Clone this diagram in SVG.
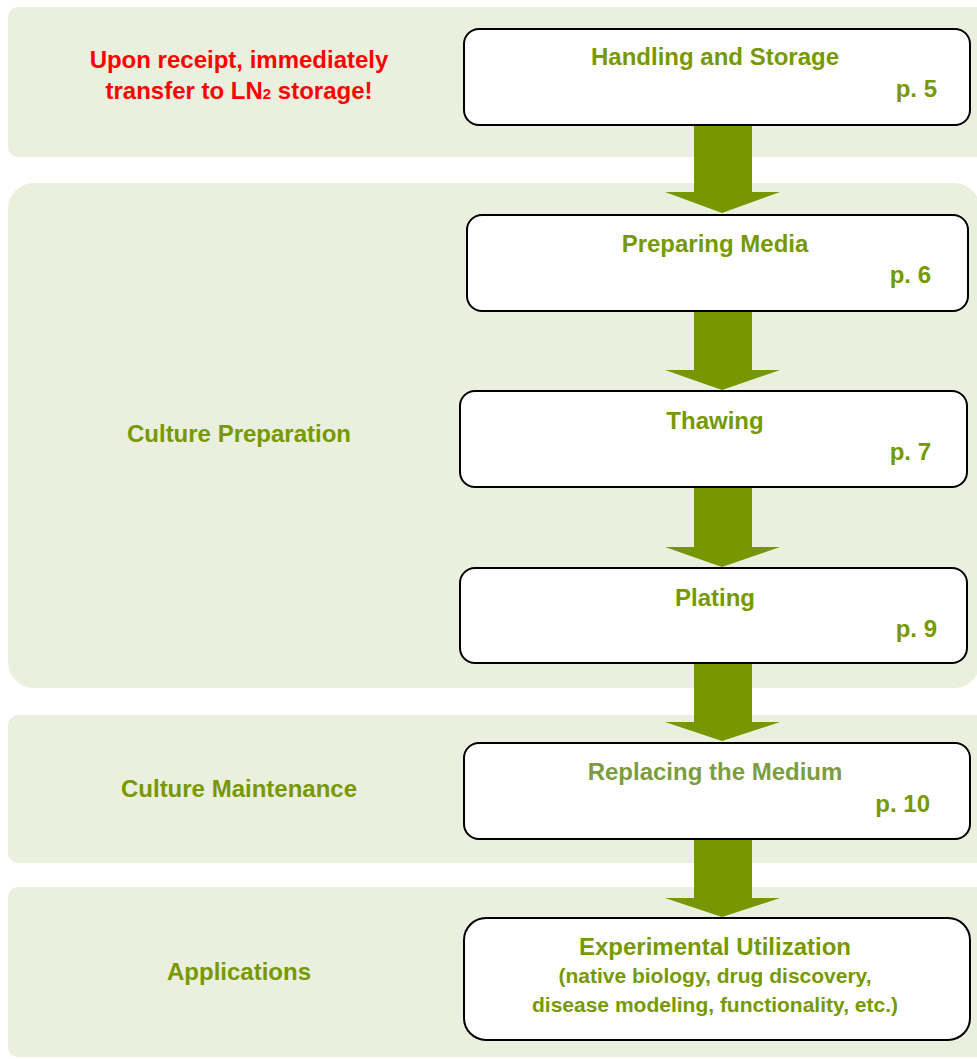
<svg xmlns="http://www.w3.org/2000/svg" width="977" height="1059" viewBox="0 0 977 1059">
<style>
.band{fill:#EBEFDE}
.box{fill:#FFFFFF;stroke:#000000;stroke-width:2}
.t{font-family:"Liberation Sans",Arial,sans-serif;font-weight:bold;font-size:24px;fill:#779900}
.c{text-anchor:middle}
.r{text-anchor:end}
.red{fill:#FF0000}
.light{fill:#7D9C40}
.s{font-size:21px}
.arrow{fill:#779700}
</style>
<g id="bands">
<rect class="band" x="8" y="7" width="990" height="150" rx="10"/>
<rect class="band" x="8" y="183" width="972" height="505" rx="26"/>
<rect class="band" x="8" y="715" width="990" height="148" rx="10"/>
<rect class="band" x="8" y="887" width="990" height="170" rx="10"/>
</g>
<g id="labels">
<text class="t c red" x="239" y="68">Upon receipt, immediately</text>
<text class="t c red" x="239" y="99">transfer to LN<tspan font-size="15">2</tspan> storage!</text>
<text class="t c" x="239" y="442">Culture Preparation</text>
<text class="t c" x="239" y="797">Culture Maintenance</text>
<text class="t c" x="239" y="980">Applications</text>
</g>
<g id="connectors">
<polygon class="arrow" points="694,126 752,126 752,192 780,192 722,213 665,192 694,192"/>
<polygon class="arrow" points="694,312 752,312 752,370 780,370 722,390 665,370 694,370"/>
<polygon class="arrow" points="694,488 752,488 752,547 780,547 722,567 665,547 694,547"/>
<polygon class="arrow" points="694,664 752,664 752,722 780,722 722,741 665,722 694,722"/>
<polygon class="arrow" points="694,840 752,840 752,898 780,898 722,917 665,898 694,898"/>
</g>
<g id="handling">
<rect class="box" x="464" y="29" width="506" height="96" rx="15"/>
<text class="t c" x="715" y="65">Handling and Storage</text>
<text class="t r" x="937" y="97">p. 5</text>
</g>
<g id="media">
<rect class="box" x="467" y="215" width="501" height="96" rx="15"/>
<text class="t c" x="715" y="252">Preparing Media</text>
<text class="t r" x="931" y="283">p. 6</text>
</g>
<g id="thawing">
<rect class="box" x="460" y="391" width="507" height="96" rx="15"/>
<text class="t c" x="715" y="429">Thawing</text>
<text class="t r" x="931" y="460">p. 7</text>
</g>
<g id="plating">
<rect class="box" x="460" y="568" width="507" height="95" rx="15"/>
<text class="t c" x="715" y="606">Plating</text>
<text class="t r" x="937" y="637">p. 9</text>
</g>
<g id="replacing">
<rect class="box" x="464" y="743" width="506" height="96" rx="15"/>
<text class="t c light" x="715" y="780">Replacing the Medium</text>
<text class="t r" x="930" y="812">p. 10</text>
</g>
<g id="experimental">
<rect class="box" x="464" y="918" width="506" height="122" rx="22"/>
<text class="t c" x="715" y="955">Experimental Utilization</text>
<text class="t c s" x="715" y="983">(native biology, drug discovery,</text>
<text class="t c s" x="715" y="1012">disease modeling, functionality, etc.)</text>
</g>
</svg>
